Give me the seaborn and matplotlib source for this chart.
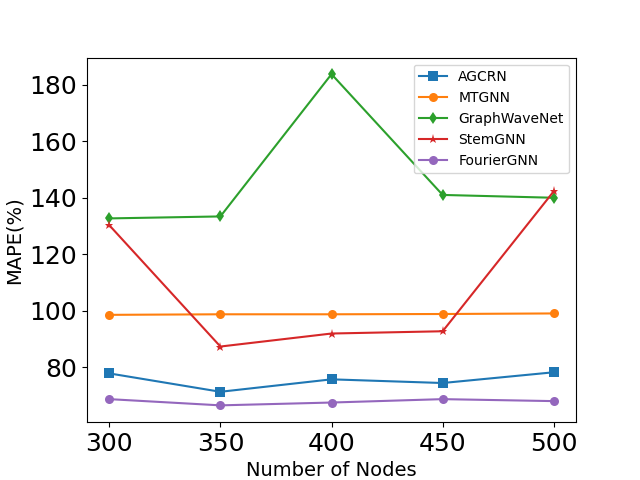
import matplotlib
matplotlib.use("Agg")
import matplotlib.pyplot as plt
import seaborn as sns
import pandas as pd

nodes = [300, 350, 400, 450, 500]
agcrn = [77.9, 71.4, 75.8, 74.5, 78.3]
mtgnn = [98.6, 98.8, 98.8, 98.9, 99.1]
graphwavenet = [132.7, 133.4, 183.7, 141.0, 140.0]
stemgnn = [130.3, 87.4, 92.0, 92.8, 142.3]
fouriergnn = [68.8, 66.6, 67.6, 68.8, 68.1]

models = ["AGCRN", "MTGNN", "GraphWaveNet", "StemGNN", "FourierGNN"]
series = [agcrn, mtgnn, graphwavenet, stemgnn, fouriergnn]
markers = {"AGCRN": "s", "MTGNN": "o", "GraphWaveNet": "d", "StemGNN": "*", "FourierGNN": "o"}
colors = ["#1f77b4", "#ff7f0e", "#2ca02c", "#d62728", "#9467bd"]

rows = []
for m, vals in zip(models, series):
    for x, v in zip(nodes, vals):
        rows.append({"nodes": x, "mape": v, "model": m})
df = pd.DataFrame(rows)

fig, ax = plt.subplots(figsize=(6.4, 4.8), dpi=100)
fig.subplots_adjust(left=0.136, right=0.9, bottom=0.121, top=0.88)
sns.lineplot(data=df, x="nodes", y="mape", hue="model", style="model",
             hue_order=models, style_order=models, palette=colors,
             markers=markers, dashes=False, markersize=6.5, markeredgewidth=0,
             linewidth=1.5, ax=ax)
ax.set_xlabel("Number of Nodes", fontsize=14)
ax.set_ylabel("MAPE(%)", fontsize=14)
ax.set_xticks(nodes)
ax.tick_params(axis="both", labelsize=18)
ax.legend(loc="upper right", fontsize=10)
fig.savefig("out.png", dpi=100)
